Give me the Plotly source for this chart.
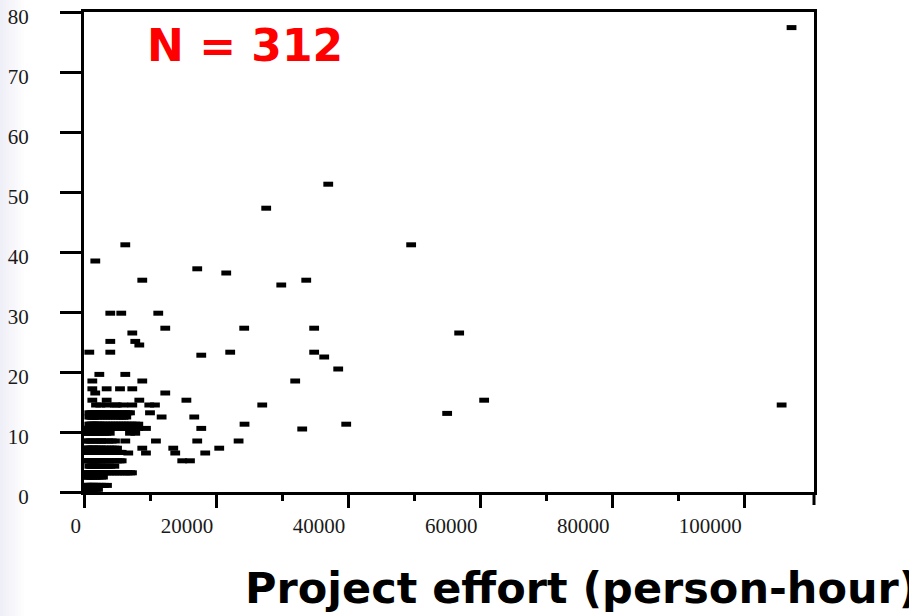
import plotly.graph_objects as go

# Scattered (individually readable) projects: effort (person-hour) and y value
sparse_effort = [107100, 36970, 27580, 49520, 6250, 1710, 17140, 21530, 8820, 33640,
                 29860, 3980, 5640, 11240, 12300, 24250, 34840, 7310, 56790, 3980,
                 7760, 8370, 800, 3980, 17750, 22130, 34840, 36360, 38480, 2320,
                 6250, 1260, 8820, 31970, 1260, 3430, 5450, 7310, 1700, 12300,
                 1260, 3430, 8370, 15500, 60570, 1820, 3430, 4950, 5950, 7310,
                 9880, 10740, 26980, 105600, 9990, 54970, 1410, 5950, 11750, 16690,
                 24300, 39690, 7760, 9380, 17750, 33030, 1260, 2670, 3680, 4690,
                 6250, 10890, 17140, 23400, 8820, 13510, 20470, 6700, 9380, 13810,
                 18350, 14870, 16040]
sparse_value = [77.4, 51.3, 47.3, 41.2, 41.2, 38.5, 37.2, 36.5, 35.3, 35.3,
                34.5, 29.8, 29.8, 29.8, 27.3, 27.3, 27.3, 26.5, 26.5, 25.1,
                25.1, 24.5, 23.3, 23.3, 22.8, 23.3, 23.3, 22.5, 20.5, 19.6,
                19.6, 18.5, 18.5, 18.5, 17.2, 17.2, 17.2, 17.2, 16.5, 16.5,
                15.3, 15.3, 15.3, 15.3, 15.3, 14.5, 14.5, 14.5, 14.5, 14.5,
                14.5, 14.5, 14.5, 14.5, 13.2, 13.1, 12.5, 12.5, 12.5, 12.5,
                11.3, 11.3, 11.3, 10.6, 10.6, 10.5, 8.5, 8.5, 8.5, 8.5,
                8.5, 8.5, 8.5, 8.5, 7.3, 7.3, 7.3, 6.5, 6.5, 6.5,
                6.5, 5.2, 5.2]

# Dense cluster near the origin, read row by row (row value, efforts on that row)
cluster_row_values = [13.2, 12.5, 11.3, 10.6, 9.8, 8.5, 7.3, 6.6, 5.2, 4.3, 3.2, 2.5, 1.1, 0.45, 14.5]
cluster_row_efforts = [
    [800, 1100, 1300, 1500, 1900, 2100, 2300, 2700, 3000, 3400, 3800, 4200, 4600, 5000, 5400, 5800, 6200, 6600, 6960],
    [800, 1000, 1200, 1400, 1600, 2000, 2400, 2800, 3200, 3600, 4000, 4400, 4800, 5200, 5600, 6000, 6400],
    [800, 1000, 1200, 1400, 1600, 2000, 2200, 2400, 2800, 3200, 3600, 4000, 4400, 4800, 5200, 5600, 6000, 6400, 6800, 7200, 8220],
    [300, 500, 700, 1000, 1200, 1400, 1600, 1800, 2200, 2400, 2600, 3000, 3400, 3800, 4200, 4600, 5000, 5400, 5800, 6200, 6600, 7000, 7400, 7800, 8200],
    [300, 500, 700, 1000, 1200, 1400, 1600, 1800, 2200, 2600, 3000, 3400, 3900, 6960, 7760],
    [300, 700, 1000, 1800, 2200, 2600, 3200, 4200],
    [300, 500, 700, 1000, 1200, 1400, 1600, 1800, 2200, 2400, 2600, 3000, 3400, 3800, 4200, 4600, 5000],
    [300, 500, 700, 1000, 1200, 1400, 1600, 1800, 2200, 2400, 2600, 3000, 3400, 3800, 4200, 4600, 5000, 5400, 5700],
    [300, 500, 700, 1000, 1200, 1400, 1600, 1800, 2200, 2400, 2600, 3000, 3400, 3800, 4200, 4600, 5000, 5400, 5700],
    [800, 1000, 1200, 1400, 1600, 1800, 2000, 2400, 2800, 3200, 3600, 4000, 4590],
    [300, 500, 700, 1000, 1200, 1400, 1600, 1800, 2200, 2400, 2600, 3000, 3400, 3800, 4200, 4600, 5000, 5400, 5800, 6200, 6600, 7000, 7260],
    [300, 500, 700, 1000, 1200, 1400, 1600, 1800, 2200, 2600, 2870],
    [300, 500, 700, 1000, 1200, 1400, 1600, 1800, 2200, 2600, 3000, 3480],
    [300, 500, 700, 1000, 1200, 1400, 1800, 2120],
    [2470, 4690],
]

x_tick_values = [0, 20000, 40000, 60000, 80000, 100000]
x_tick_labels = ["0", "20000", "40000", "60000", "80000", "100000"]
x_minor_values = [10000, 30000, 50000, 70000, 90000]
y_tick_values = [0, 10, 20, 30, 40, 50, 60, 70, 80]
x_range_max = 110500
y_range_max = 80
n_label = "N = 312"
x_title = "Project effort (person-hour)"

cluster_effort, cluster_value = [], []
for v, xs in zip(cluster_row_values, cluster_row_efforts):
    for x in xs:
        cluster_effort.append(x)
        cluster_value.append(v)

all_x = sparse_effort + cluster_effort
all_y = sparse_value + cluster_value

fig = go.Figure()
fig.add_trace(go.Scatter(
    x=all_x, y=all_y, mode="markers",
    marker=dict(symbol="line-ew", size=7, color="black",
                line=dict(color="black", width=5)),
    showlegend=False, cliponaxis=False, hoverinfo="x+y",
))

L, R, T, B = 84, 95, 12, 124
W, H = 909, 616
pw, ph = W - L - R, H - T - B

axis_common = dict(showline=True, linewidth=3, linecolor="black", mirror=True,
                   ticks="outside", tickwidth=3, tickcolor="black",
                   showgrid=False, zeroline=False, automargin=False,
                   ticklabeloverflow="allow",
                   tickfont=dict(family="Liberation Serif", size=21, color="#1a1a1a"))

fig.update_xaxes(range=[0, x_range_max], tickvals=x_tick_values, ticktext=x_tick_labels,
                 ticklen=13, ticklabelposition="outside left", ticklabelstandoff=13,
                 minor=dict(tickvals=x_minor_values, ticks="outside",
                            ticklen=6, tickwidth=3, tickcolor="black"),
                 **axis_common)
fig.update_yaxes(range=[0, y_range_max], tickvals=y_tick_values,
                 ticklen=21, ticklabelstandoff=27, ticklabelshift=5,
                 **axis_common)

shapes = []
# faint gradient strip at the left edge
for k in range(1, 9):
    shapes.append(dict(type="rect", xref="paper", yref="paper",
                       x0=-L / pw, x1=(-L + 3 * k) / pw, y0=-B / ph, y1=(H - B) / ph,
                       fillcolor="#d4d4e2", opacity=0.05, line=dict(width=0), layer="below"))
# tick at the right end of the x axis
shapes.append(dict(type="line", xref="paper", yref="paper", x0=1, x1=1,
                   y0=0, y1=-13 / ph, line=dict(color="black", width=3)))

fig.update_layout(
    width=W, height=H, autosize=False,
    margin=dict(l=L, r=R, t=T, b=B, pad=0, autoexpand=False),
    paper_bgcolor="white", plot_bgcolor="white",
    shapes=shapes,
    annotations=[
        dict(text=n_label, xref="paper", yref="paper", x=(145 - L) / pw, y=(492 - 46) / ph,
             xanchor="left", yanchor="middle", showarrow=False,
             font=dict(family="DejaVu Sans", size=44, color="#ff0000", weight="bold")),
        dict(text=x_title, xref="paper", yref="paper", x=(243 - L) / pw, y=(492 - 588) / ph,
             xanchor="left", yanchor="middle", showarrow=False,
             font=dict(family="DejaVu Sans", size=43, color="black", weight="bold")),
    ],
)

fig.write_html("out.html")
